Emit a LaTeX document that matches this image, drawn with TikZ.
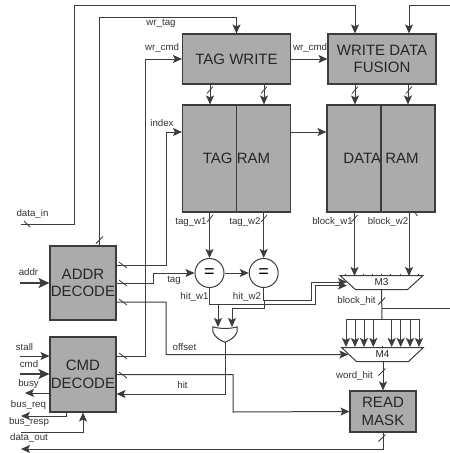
\documentclass[tikz,border=0pt]{standalone}
\usepackage{fontspec}
\setmainfont{Liberation Sans}
\usepackage{xcolor}
\usetikzlibrary{shapes.geometric, arrows.meta, positioning}
\definecolor{boxgray}{HTML}{ABABAB}
\definecolor{linegray}{HTML}{3C3C3C}

\begin{document}
\begin{tikzpicture}[x=1pt, y=-1pt]
    \tikzstyle{block} = [rectangle, draw=linegray, fill=boxgray, line width=1.1pt, inner sep=0pt, align=center, text=black!85, font=\fontsize{15}{17.5}\selectfont]
    \tikzstyle{eqnode} = [circle, draw=linegray, fill=white, line width=1pt, minimum size=29pt, inner sep=0pt, font=\fontsize{18}{18}\selectfont]
    \tikzstyle{mux} = [trapezium, shape border rotate=180, trapezium stretches=true, draw=linegray, line width=1pt, minimum height=14pt, inner sep=0pt, text=black!85, font=\fontsize{10}{10}\selectfont]
    \tikzstyle{wire} = [draw=linegray, line width=1pt]
    \tikzstyle{arrow} = [wire, -{Stealth[length=9pt,width=8pt,inset=2pt]}]
    \tikzstyle{fatarrow} = [wire, line width=1.8pt, -{Stealth[length=11pt,width=10pt,inset=2.5pt]}]
    \tikzstyle{slash} = [draw=linegray, line width=0.8pt]
    \tikzstyle{lbl} = [inner sep=0pt, text=black!80, font=\fontsize{9.7}{10}\selectfont]
    \useasboundingbox (0,0) rectangle (450,453);

    \node[block, minimum width=108pt, minimum height=50pt] (tagwrite) at (236.5,59) {TAG WRITE};
    \node[block, minimum width=108pt, minimum height=50pt] (fusion) at (382,59) {WRITE DATA\\FUSION};
    \node[block, minimum width=108pt, minimum height=107pt] (tagram) at (236.5,158.5) {TAG RAM};
    \node[block, minimum width=108pt, minimum height=107pt] (dataram) at (381,158.5) {DATA RAM};
    \node[block, minimum width=66pt, minimum height=74pt] (addr) at (83,283) {ADDR\\DECODE};
    \node[block, minimum width=66pt, minimum height=75pt] (cmddec) at (83,374.5) {CMD\\DECODE};
    \node[block, minimum width=66pt, minimum height=41pt] (readmask) at (383,411.5) {READ\\MASK};
    \node[eqnode] (eq1) at (209.5,273) {=};
    \node[eqnode] (eq2) at (263.7,273) {=};
    \node[mux, minimum width=83pt] (m3) at (381.5,282.5) {M3};
    \node[mux, minimum width=82pt] (m4) at (382.5,354.5) {M4};
    \node[minimum width=24pt, minimum height=15pt, inner sep=0pt] (andgate) at (225,334.5) {};

    \coordinate (dataIn) at (21,224);
    \coordinate (topIn) at (450,5);
    \coordinate (addrIn) at (20,283);
    \coordinate (stallIn) at (20,356);
    \coordinate (cmdIn) at (20,374);
    \coordinate (busyOut) at (25,393);
    \coordinate (busReqOut) at (21,416);
    \coordinate (busRespIn) at (21,432);
    \coordinate (dataOut) at (21,449);
    \coordinate (blockHitOut) at (450,308);

    \draw[wire, fill=white] (andgate.north west) .. controls (220,329) and (230,329) .. (andgate.north east) -- (237,332) .. controls (235,337) and (231,340) .. (andgate.south) .. controls (219,340) and (215,337) .. (213,332) -- cycle;

    \draw[block, fill=none] (tagram.north) -- (tagram.south);
    \draw[block, fill=none] (dataram.north) -- (dataram.south);

    \draw[arrow] (dataIn) -- (74.5,224) |- (355,5) -- (fusion.north -| 355,0);
    \draw[arrow] (topIn) -| (fusion.north -| 409,0);
    \draw[arrow] (addr.north -| 99.5,0) |- (236.5,17.5) -- (tagwrite.north);
    \draw[arrow] (cmddec.east |- 0,356) -| (145,59) -- (tagwrite.west);
    \draw[arrow] (addr.east |- 0,265) -| (166,132) -- (tagram.west |- 0,132);
    \draw[arrow] (addr.east |- 0,283) -| (153,273) -- (eq1.west);
    \draw[arrow] (addr.east |- 0,302) -| (166,354.5) -- (m4.west);
    \draw[arrow] (cmddec.east |- 0,374.5) -| (233,412) -- (readmask.west);
    \draw[arrow] (tagwrite.east) -- (fusion.west);
    \draw[arrow] (tagram.east |- 0,132) -- (dataram.west |- 0,132);
    \draw[arrow] (tagwrite.south -| 210,0) -- (tagram.north -| 210,0);
    \draw[arrow] (tagwrite.south -| 264,0) -- (tagram.north -| 264,0);
    \draw[arrow] (fusion.south -| 355,0) -- (dataram.north -| 355,0);
    \draw[arrow] (fusion.south -| 408,0) -- (dataram.north -| 408,0);
    \draw[arrow] (tagram.south -| eq1.north) -- (eq1.north);
    \draw[arrow] (tagram.south -| eq2.north) -- (eq2.north);
    \draw[arrow] (eq1.east) -- (eq2.west);
    \draw[arrow] (dataram.south -| 354.5,0) -- (354.5,276);
    \draw[arrow] (dataram.south -| 409,0) -- (409,276);
    \draw[arrow] (eq2.south) |- (311,300) |- (m3.west |- 0,282);
    \draw[arrow] (eq1.south) |- (315,304) |- (m3.west |- 0,285.5);
    \draw[arrow] (218,304) -- (218,327);
    \draw[arrow] (264,300) |- (232,308) -- (232,327);
    \draw[arrow] (andgate.south) |- (cmddec.east |- 0,394);

    \draw[wire] (m3.south) -- (382,319);
    \draw[wire] (382,308) -- (blockHitOut);
    \draw[wire] (346,319) -- (419,319);
    \draw[arrow] (346,319) -- (346,347);
    \draw[arrow] (355,319) -- (355,347);
    \draw[arrow] (364,319) -- (364,347);
    \draw[arrow] (373.3,319) -- (373.3,347);
    \draw[arrow] (391.7,319) -- (391.7,347);
    \draw[arrow] (400.7,319) -- (400.7,347);
    \draw[arrow] (410,319) -- (410,347);
    \draw[arrow] (419,319) -- (419,347);
    \draw[arrow] (m4.south -| readmask.north) -- (readmask.north);

    \draw[fatarrow] (addrIn) -- (addr.west);
    \draw[arrow] (stallIn) -- (cmddec.west |- stallIn);
    \draw[fatarrow] (cmdIn) -- (cmddec.west |- cmdIn);
    \draw[arrow] (cmddec.west |- busyOut) -- (busyOut);
    \draw[arrow] (cmddec.south -| 66,0) |- (busReqOut);
    \draw[arrow] (busRespIn) -| (cmddec.south);
    \draw[arrow] (readmask.south) |- (dataOut);

    \draw[slash] (345,276) -- +(0,-2) (354,276) -- +(0,-2) (363.3,276) -- +(0,-2) (372.3,276) -- +(0,-2) (381.7,276) -- +(0,-2) (390.7,276) -- +(0,-2) (400,276) -- +(0,-2) (409.3,276) -- +(0,-2) (418.3,276) -- +(0,-2);
    \draw[slash] (382,347.5) -- +(0,-2);
    \draw[slash] (99.5,240) ++(-3.5,3.5) -- ++(7,-7);
    \draw[slash] (210,90) ++(-3,3.5) -- ++(6,-7);
    \draw[slash] (264,90) ++(-3,3.5) -- ++(6,-7);
    \draw[slash] (355,90) ++(-3,3.5) -- ++(6,-7);
    \draw[slash] (409,90) ++(-3,3.5) -- ++(6,-7);
    \draw[slash] (210,218.5) ++(-3,3.5) -- ++(6,-7);
    \draw[slash] (264,218.5) ++(-3,3.5) -- ++(6,-7);
    \draw[slash] (354.5,218.5) ++(-3,3.5) -- ++(6,-7);
    \draw[slash] (381.7,301) ++(-3.5,3.5) -- ++(7,-7);
    \draw[slash] (382,372) ++(-3.5,3.5) -- ++(7,-7);
    \draw[slash] (382,438) ++(-3.5,3.5) -- ++(7,-7);
    \draw[slash] (416,214) ++(-1.5,-2) -- ++(3,4);
    \draw[slash] (27,224) ++(-3,-3) -- ++(6,6);
    \draw[slash] (123,265) ++(-4,-3) -- ++(8,6);
    \draw[slash] (123,283) ++(-4,-3) -- ++(8,6);
    \draw[slash] (123,302) ++(-4,-3) -- ++(8,6);
    \draw[slash] (123,356) ++(-4,-3) -- ++(8,6);
    \draw[slash] (123,375) ++(-4,-3) -- ++(8,6);

    \node[lbl] (lwrtag) at (161,23) {wr\_tag};
    \node[lbl] (lwrcmd) at (162,48) {wr\_cmd};
    \node[lbl] (lindex) at (162,123) {index};
    \node[lbl] (ldatain) at (32.5,214) {data\_in};
    \node[lbl] (lwrcmdb) at (310,48) {wr\_cmd};
    \node[lbl] (ltagwa) at (191,222) {tag\_w1};
    \node[lbl] (ltagwb) at (245,222) {tag\_w2};
    \node[lbl] (lblockwa) at (332.5,222) {block\_w1};
    \node[lbl] (lblockwb) at (388,222) {block\_w2};
    \node[lbl] (laddr) at (28.5,272) {addr};
    \node[lbl] (ltag) at (174,280.5) {tag};
    \node[lbl] (lhita) at (194.5,297) {hit\_w1};
    \node[lbl] (lhitb) at (247,297) {hit\_w2};
    \node[lbl] (loffset) at (184.5,347.5) {offset};
    \node[lbl] (lhit) at (182.5,385) {hit};
    \node[lbl] (lstall) at (24.5,347.5) {stall};
    \node[lbl] (lcmd) at (29,364) {cmd};
    \node[lbl] (lbusy) at (28.5,384) {busy};
    \node[lbl] (lbusreq) at (28.5,405) {bus\_req};
    \node[lbl] (lbusresp) at (29,421.5) {bus\_resp};
    \node[lbl] (ldataout) at (29,438) {data\_out};
    \node[lbl] (lblockhit) at (356.5,301) {block\_hit};
    \node[lbl] (lwordhit) at (354.5,375.5) {word\_hit};
\end{tikzpicture}
\end{document}
